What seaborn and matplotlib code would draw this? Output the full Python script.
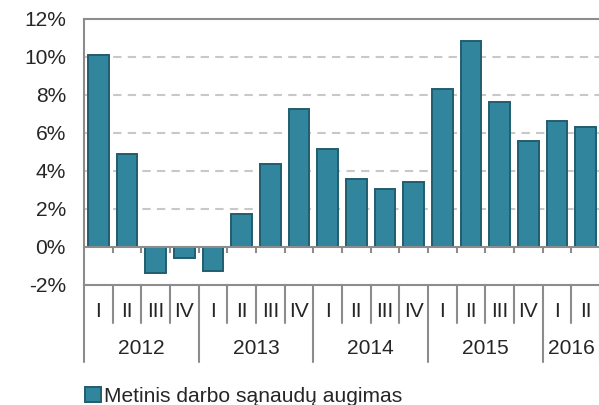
import pandas as pd
import matplotlib
matplotlib.use("Agg")
import matplotlib.pyplot as plt
import matplotlib.transforms as mtransforms
import seaborn as sns

# data
years = ["2012", "2013", "2014", "2015", "2016"]
quarters_per_year = [4, 4, 4, 4, 2]
quarter_labels = ["I", "II", "III", "IV"] * 4 + ["I", "II"]
growth = [10.1, 4.9, -1.35, -0.6, -1.25, 1.75, 4.35, 7.25,
          5.15, 3.6, 3.05, 3.4, 8.3, 10.85, 7.65, 5.6, 6.65, 6.3]
series_name = "Metinis darbo sąnaudų augimas"

bar_color = "#31859C"
edge_color = "#215D6E"
line_gray = "#8C8C8C"
fs = 15.1


def BuildFrame():
    keys = []
    for y, n in zip(years, quarters_per_year):
        for q in quarter_labels[:n]:
            keys.append(y + " " + q)
    return pd.DataFrame({"period": keys, "growth": growth})


def BarChart():
    df = BuildFrame()
    sns.set_style("white")
    plt.rcParams["font.family"] = ["Liberation Sans", "DejaVu Sans"]

    fig = plt.figure(figsize=(5.99, 4.05), dpi=100)
    ax = fig.add_axes([84 / 599, 1 - 285 / 405, 516 / 599, 266 / 405])

    sns.barplot(data=df, x="period", y="growth", color=bar_color,
                saturation=1, width=0.72, edgecolor=edge_color,
                linewidth=1.4, label=series_name, ax=ax)

    n = len(df)
    ax.set_xlim(-0.5, n - 0.5)
    ax.set_ylim(-2, 12)
    ax.set_yticks(range(-2, 13, 2))
    ax.set_yticklabels([f"{v}%" for v in range(-2, 13, 2)], fontsize=fs)
    ax.tick_params(axis="y", length=0, pad=13)
    ax.set_xticks([])
    ax.set_xlabel("")
    ax.set_ylabel("")

    for v in range(2, 11, 2):
        ax.axhline(v, color="#C8C8C8", lw=1.5, ls=(0, (4, 3)), zorder=0)
    ax.axhline(0, color=line_gray, lw=1.5, zorder=3)

    for side in ["left", "top", "bottom"]:
        ax.spines[side].set_color(line_gray)
        ax.spines[side].set_linewidth(1.5)
    ax.spines["right"].set_visible(False)

    bounds = [k - 0.5 for k in range(n + 1)]
    ax.vlines(bounds[1:-1], -0.3, 0, color=line_gray, lw=1.5, zorder=3)

    # category table under the plot
    trans = mtransforms.blended_transform_factory(ax.transData, ax.transAxes)
    year_bounds = [-0.5]
    for c in quarters_per_year:
        year_bounds.append(year_bounds[-1] + c)
    for b in bounds:
        low = -0.2895 if b in year_bounds else -0.143
        ax.plot([b, b], [0, low], color=line_gray, lw=1.5,
                transform=trans, clip_on=False)
    for i, q in enumerate(quarter_labels):
        ax.text(i, -0.098, q, transform=trans, ha="center", va="center",
                fontsize=fs)
    for y, a, b in zip(years, year_bounds[:-1], year_bounds[1:]):
        ax.text((a + b) / 2, -0.237, y, transform=trans, ha="center",
                va="center", fontsize=fs)

    ax.legend(loc="center left", bbox_to_anchor=(85 / 599, 1 - 396 / 405),
              bbox_transform=fig.transFigure, frameon=False, fontsize=fs,
              handlelength=0.75, handleheight=0.75, handletextpad=0.15,
              borderaxespad=0, borderpad=0)

    fig.savefig("out.png", dpi=100)


BarChart()
